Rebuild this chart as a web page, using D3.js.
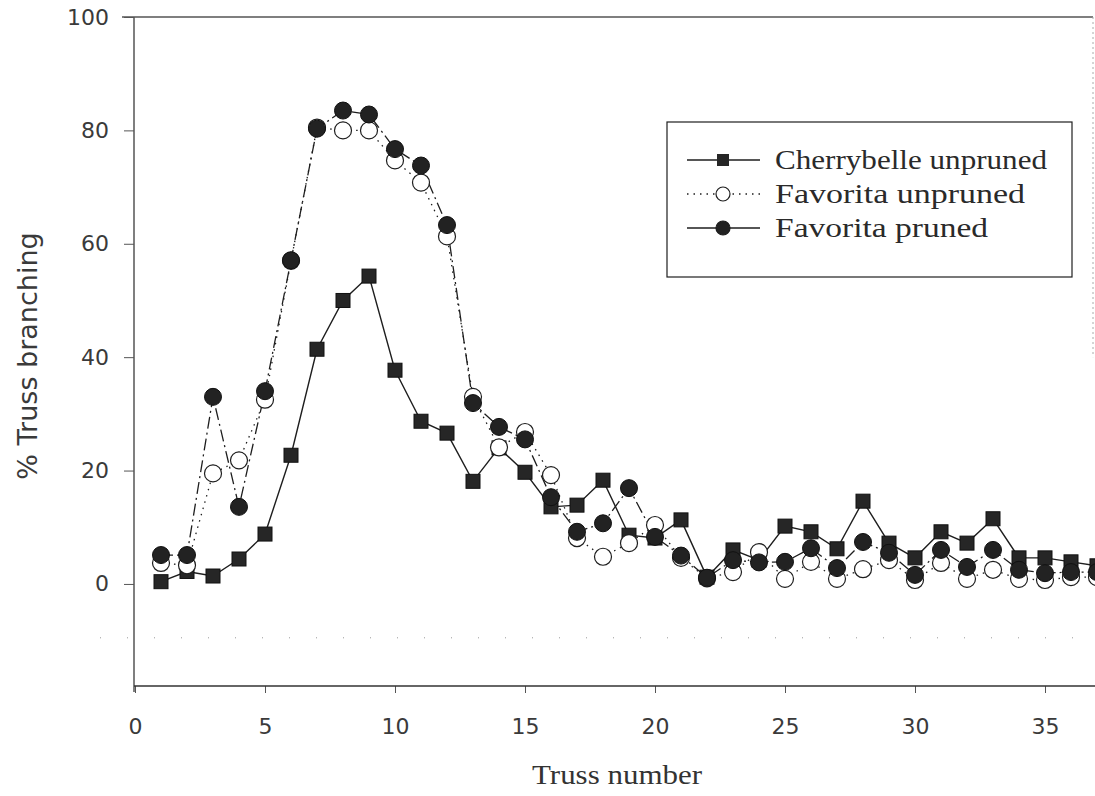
<!DOCTYPE html>
<html>
<head>
<meta charset="utf-8">
<script src="https://cdn.jsdelivr.net/npm/d3@7"></script>
<style>
  body { margin: 0; background: #fff; }
</style>
</head>
<body>
<div id="chart"></div>
<script>

// Truss numbers along the x axis
var truss = [1, 2, 3, 4, 5, 6, 7, 8, 9, 10, 11, 12, 13, 14, 15, 16, 17, 18, 19, 20,
  21, 22, 23, 24, 25, 26, 27, 28, 29, 30, 31, 32, 33, 34, 35, 36, 37];

// % truss branching
var cherrybelleUnpruned = [0.4, 2.2, 1.4, 4.4, 8.8, 22.7, 41.4, 50.0, 54.3, 37.7,
  28.7, 26.6, 18.1, 24.0, 19.7, 13.6, 13.9, 18.3, 8.6, 8.1,
  11.3, 1.2, 6.0, 4.2, 10.2, 9.2, 6.2, 14.6, 7.2, 4.6,
  9.2, 7.2, 11.5, 4.6, 4.6, 3.9, 3.2];

var favoritaUnpruned = [3.7, 3.3, 19.5, 21.8, 32.5, 57.0, 80.5, 80.0, 80.0, 74.7,
  70.8, 61.3, 33.0, 24.1, 26.8, 19.2, 8.1, 4.8, 7.2, 10.4,
  4.6, 1.0, 2.1, 5.6, 0.9, 3.9, 0.9, 2.6, 4.2, 0.7,
  3.7, 0.9, 2.5, 0.9, 0.7, 1.2, 1.2];

var favoritaPruned = [5.1, 5.1, 33.0, 13.6, 34.0, 57.1, 80.3, 83.5, 82.8, 76.7,
  73.8, 63.3, 31.9, 27.7, 25.5, 15.3, 9.2, 10.7, 16.9, 8.3,
  5.0, 1.1, 4.2, 3.8, 3.9, 6.3, 2.8, 7.4, 5.5, 1.6,
  6.0, 3.0, 6.0, 2.5, 1.9, 2.1, 2.1];

var xTicks = [0, 5, 10, 15, 20, 25, 30, 35];
var yTicks = [0, 20, 40, 60, 80, 100];

var seriesNames = ['Cherrybelle unpruned', 'Favorita unpruned', 'Favorita pruned'];

//Sets dimensions
var width = 1095,
  height = 796;

var svg = d3.select('#chart')
  .append('svg')
  .attr('width', width)
  .attr('height', height);

var x = d3.scaleLinear().domain([0, 37]).range([135, 1097]);
var y = d3.scaleLinear().domain([-18, 100]).range([686, 17]);

var ink = '#1e1e1e';

//Frame lines (top and right) and the faint dotted line below zero
svg.append('line')
  .attr('x1', 122).attr('x2', 1093)
  .attr('y1', y(100)).attr('y2', y(100))
  .attr('stroke', '#555').attr('stroke-width', 1.3);

svg.append('line')
  .attr('x1', 1093).attr('x2', 1093)
  .attr('y1', y(100)).attr('y2', y(40))
  .attr('stroke', '#aaa').attr('stroke-width', 1)
  .attr('stroke-dasharray', '2,3');

svg.append('line')
  .attr('x1', 100).attr('x2', 1095)
  .attr('y1', y(-9.5)).attr('y2', y(-9.5))
  .attr('stroke', '#999').attr('stroke-width', 1)
  .attr('stroke-dasharray', '1,26');

//Y axis
var yAxis = d3.axisLeft(y)
  .tickValues(yTicks)
  .tickSize(10)
  .tickPadding(15);

var gy = svg.append('g')
  .attr('transform', 'translate(134,0)')
  .call(yAxis);

gy.select('.domain').remove();
gy.append('line')
  .attr('x1', 0).attr('x2', 0)
  .attr('y1', y(100)).attr('y2', y(-18) + 6)
  .attr('stroke', '#555').attr('stroke-width', 1.5);
gy.selectAll('.tick line').attr('stroke', '#555');
gy.selectAll('.tick text')
  .attr('fill', '#3a3a3a')
  .style('font-family', '"DejaVu Sans", sans-serif')
  .style('font-size', '22px');

//X axis
var xAxis = d3.axisBottom(x)
  .tickValues(xTicks)
  .tickSize(7)
  .tickPadding(25);

var gx = svg.append('g')
  .attr('transform', 'translate(0,686)')
  .call(xAxis);

gx.select('.domain').remove();
gx.append('line')
  .attr('x1', 134).attr('x2', 1095)
  .attr('y1', 0).attr('y2', 0)
  .attr('stroke', '#333').attr('stroke-width', 1.5);
gx.selectAll('.tick line').attr('stroke', '#555');
gx.selectAll('.tick text')
  .attr('fill', '#3a3a3a')
  .style('font-family', '"DejaVu Sans", sans-serif')
  .style('font-size', '22px');

//Axis titles
svg.append('text')
  .attr('transform', 'translate(37,356) rotate(-90)')
  .attr('text-anchor', 'middle')
  .attr('fill', '#3a3a3a')
  .style('font-family', '"DejaVu Sans", sans-serif')
  .style('font-size', '27px')
  .text('% Truss branching');

svg.append('text')
  .attr('x', 617)
  .attr('y', 784)
  .attr('text-anchor', 'middle')
  .attr('fill', '#333')
  .attr('textLength', 170)
  .attr('lengthAdjust', 'spacingAndGlyphs')
  .style('font-family', '"Liberation Serif", serif')
  .style('font-size', '27px')
  .text('Truss number');

//Lines
function seriesPoints(values) {
  return truss.map(function(t, i) {
    return [t, values[i]];
  });
}

var line = d3.line()
  .x(function(d) { return x(d[0]); })
  .y(function(d) { return y(d[1]); });

var plot = svg.append('g');

plot.append('path')
  .datum(seriesPoints(cherrybelleUnpruned))
  .attr('d', line)
  .attr('fill', 'none')
  .attr('stroke', ink)
  .attr('stroke-width', 1.4);

plot.append('path')
  .datum(seriesPoints(favoritaUnpruned))
  .attr('d', line)
  .attr('fill', 'none')
  .attr('stroke', ink)
  .attr('stroke-width', 1.3)
  .attr('stroke-dasharray', '1.5,5');

plot.append('path')
  .datum(seriesPoints(favoritaPruned))
  .attr('d', line)
  .attr('fill', 'none')
  .attr('stroke', ink)
  .attr('stroke-width', 1.3)
  .attr('stroke-dasharray', '12,4,2,4');

//Markers: squares first, then open circles, filled circles on top
var sq = 14;

plot.selectAll('.sq')
  .data(seriesPoints(cherrybelleUnpruned))
  .enter()
  .append('rect')
  .attr('class', 'sq')
  .attr('x', function(d) { return x(d[0]) - sq / 2; })
  .attr('y', function(d) { return y(d[1]) - sq / 2; })
  .attr('width', sq)
  .attr('height', sq)
  .attr('fill', '#262626')
  .attr('stroke', '#111')
  .attr('stroke-width', 1);

plot.selectAll('.open')
  .data(seriesPoints(favoritaUnpruned))
  .enter()
  .append('circle')
  .attr('class', 'open')
  .attr('cx', function(d) { return x(d[0]); })
  .attr('cy', function(d) { return y(d[1]); })
  .attr('r', 8.5)
  .attr('fill', '#fff')
  .attr('stroke', ink)
  .attr('stroke-width', 1.2);

plot.selectAll('.filled')
  .data(seriesPoints(favoritaPruned))
  .enter()
  .append('circle')
  .attr('class', 'filled')
  .attr('cx', function(d) { return x(d[0]); })
  .attr('cy', function(d) { return y(d[1]); })
  .attr('r', 8.5)
  .attr('fill', '#222')
  .attr('stroke', '#111')
  .attr('stroke-width', 1);

//Legend
var legend = svg.append('g');

legend.append('rect')
  .attr('x', 667).attr('y', 122)
  .attr('width', 405).attr('height', 155)
  .attr('fill', '#fff')
  .attr('stroke', ink)
  .attr('stroke-width', 1.2);

var rowY = [160, 194, 228];
var rowDash = [null, '1.5,5', null];
var textLengths = [272, 250, 213];

seriesNames.forEach(function(name, i) {
  legend.append('line')
    .attr('x1', 687).attr('x2', 760)
    .attr('y1', rowY[i]).attr('y2', rowY[i])
    .attr('stroke', ink)
    .attr('stroke-width', 1.3)
    .attr('stroke-dasharray', rowDash[i]);

  if (i == 0) {
    legend.append('rect')
      .attr('x', 723 - 6).attr('y', rowY[i] - 6)
      .attr('width', 12).attr('height', 12)
      .attr('fill', '#262626');
  } else {
    legend.append('circle')
      .attr('cx', 723).attr('cy', rowY[i])
      .attr('r', 7)
      .attr('fill', i == 1 ? '#fff' : '#222')
      .attr('stroke', ink)
      .attr('stroke-width', 1.2);
  }

  legend.append('text')
    .attr('x', 775)
    .attr('y', rowY[i] + 9)
    .attr('fill', '#2a2a2a')
    .attr('textLength', textLengths[i])
    .attr('lengthAdjust', 'spacingAndGlyphs')
    .style('font-family', '"Liberation Serif", serif')
    .style('font-size', '27px')
    .text(name);
});

</script>
</body>
</html>
